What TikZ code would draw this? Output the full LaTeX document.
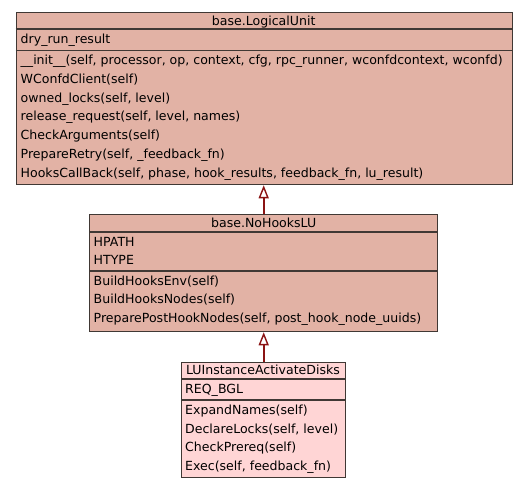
\documentclass[tikz,border=0pt]{standalone}
\usepackage{fontspec}
\setmainfont{DejaVu Sans}
\usetikzlibrary{arrows.meta}
\definecolor{lufill}{RGB}{226,178,165}
\definecolor{actfill}{RGB}{255,213,213}
\definecolor{boxline}{RGB}{64,56,52}
\definecolor{arrowred}{RGB}{139,20,20}
\tikzset{
  box/.style={draw=boxline, line width=1.3pt, inner sep=0pt, anchor=north west},
  divider/.style={draw=boxline, line width=1.3pt},
  txt/.style={anchor=west, inner sep=0pt, text height=9pt, text depth=0pt, font=\fontsize{12.55}{14}\selectfont},
  ttl/.style={txt, anchor=center},
  inherit/.style={draw=arrowred, line width=2.3pt, -{Triangle[open, fill=white, length=13pt, width=10pt, line width=1.4pt]}},
}
\begin{document}
\begin{tikzpicture}[x=1pt,y=-1pt]
\useasboundingbox (0,0) rectangle (528,488);
% base.LogicalUnit
\node[box, fill=lufill, minimum width=496.5pt, minimum height=172pt] (lu) at (15.5,12) {};
\draw[divider] (lu.west |- 0,29) -- (lu.east |- 0,29);
\draw[divider] (lu.west |- 0,50.7) -- (lu.east |- 0,50.7);
\node[ttl] (lut) at (263.7,20.5) {base.LogicalUnit};
\node[txt] (lua1) at (20.5,38.5) {dry\_run\_result};
\node[txt] (lum1) at (20.5,60) {\_\_init\_\_(self, processor, op, context, cfg, rpc\_runner, wconfdcontext, wconfd)};
\node[txt] (lum2) at (20.5,78.8) {WConfdClient(self)};
\node[txt] (lum3) at (20.5,97.6) {owned\_locks(self, level)};
\node[txt] (lum4) at (20.5,116.4) {release\_request(self, level, names)};
\node[txt] (lum5) at (20.5,135.2) {CheckArguments(self)};
\node[txt] (lum6) at (20.5,154) {PrepareRetry(self, \_feedback\_fn)};
\node[txt] (lum7) at (20.5,172.8) {HooksCallBack(self, phase, hook\_results, feedback\_fn, lu\_result)};
% base.NoHooksLU
\node[box, fill=lufill, minimum width=348pt, minimum height=117pt] (nh) at (89,214) {};
\draw[divider] (nh.west |- 0,232) -- (nh.east |- 0,232);
\draw[divider] (nh.west |- 0,271) -- (nh.east |- 0,271);
\node[ttl] (nht) at (263.7,222.7) {base.NoHooksLU};
\node[txt] (nha1) at (93.5,241.7) {HPATH};
\node[txt] (nha2) at (93.5,260.3) {HTYPE};
\node[txt] (nhm1) at (93.5,280.7) {BuildHooksEnv(self)};
\node[txt] (nhm2) at (93.5,299.3) {BuildHooksNodes(self)};
\node[txt] (nhm3) at (93.5,317.9) {PreparePostHookNodes(self, post\_hook\_node\_uuids)};
% LUInstanceActivateDisks
\node[box, fill=actfill, minimum width=164pt, minimum height=115pt] (act) at (181,362) {};
\draw[divider] (act.west |- 0,379) -- (act.east |- 0,379);
\draw[divider] (act.west |- 0,400) -- (act.east |- 0,400);
\node[ttl] (actt) at (263,369.5) {LUInstanceActivateDisks};
\node[txt] (acta1) at (185,389.3) {REQ\_BGL};
\node[txt] (actm1) at (185,410) {ExpandNames(self)};
\node[txt] (actm2) at (185,428.7) {DeclareLocks(self, level)};
\node[txt] (actm3) at (185,447.4) {CheckPrereq(self)};
\node[txt] (actm4) at (185,466) {Exec(self, feedback\_fn)};
% inheritance
\draw[inherit] (nh.north -| 263.7,0) -- (lu.south -| 263.7,0);
\draw[inherit] (act.north -| 263.7,0) -- (nh.south -| 263.7,0);
\end{tikzpicture}
\end{document}
